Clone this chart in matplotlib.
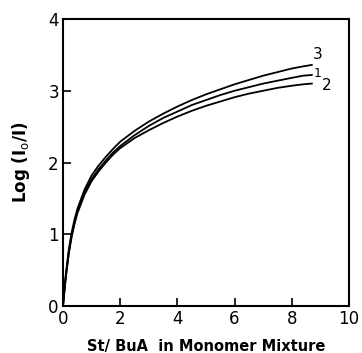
import matplotlib
matplotlib.use("Agg")
import matplotlib.pyplot as plt

x = [0, 0.05, 0.1, 0.2, 0.3, 0.4, 0.5, 0.75, 1.0, 1.25, 1.5, 1.75, 2.0, 2.5, 3.0, 3.5, 4.0, 4.5, 5.0, 5.5, 6.0, 6.5, 7.0, 7.5, 8.0, 8.4, 8.7]
curve3 = [0, 0.25, 0.45, 0.78, 1.02, 1.20, 1.35, 1.62, 1.82, 1.96, 2.08, 2.19, 2.29, 2.44, 2.57, 2.68, 2.78, 2.87, 2.95, 3.02, 3.09, 3.15, 3.21, 3.26, 3.31, 3.34, 3.36]
curve1 = [0, 0.22, 0.42, 0.74, 0.98, 1.16, 1.31, 1.58, 1.77, 1.91, 2.03, 2.14, 2.23, 2.38, 2.51, 2.62, 2.71, 2.80, 2.87, 2.94, 3.00, 3.05, 3.10, 3.14, 3.18, 3.21, 3.22]
curve2 = [0, 0.20, 0.40, 0.72, 0.96, 1.14, 1.29, 1.55, 1.74, 1.88, 2.00, 2.11, 2.20, 2.34, 2.45, 2.55, 2.64, 2.72, 2.79, 2.85, 2.91, 2.96, 3.00, 3.04, 3.07, 3.09, 3.10]
labels = ["3", "1", "2"]

fig = plt.figure(figsize=(3.62, 3.53), dpi=100)
ax = fig.add_axes([63/362, 1-306/353, (349-63)/362, (306-19)/353])

for y in (curve3, curve1, curve2):
    ax.plot(x, y, color="black", lw=1.3)

ax.text(8.75, 3.40, labels[0], fontsize=11, ha="left", va="bottom")
ax.text(8.75, 3.24, labels[1], fontsize=9, ha="left", va="center")
ax.text(9.05, 3.08, labels[2], fontsize=11, ha="left", va="center")

ax.set_xlim(0, 10)
ax.set_ylim(0, 4)
ax.set_xticks([0, 2, 4, 6, 8, 10])
ax.set_yticks([0, 1, 2, 3, 4])
ax.tick_params(direction="in", length=6, width=1.2, labelsize=12, pad=3, top=False, right=False)
for s in ax.spines.values():
    s.set_linewidth(1.5)
ax.set_xlabel("St/ BuA  in Monomer Mixture", fontsize=10.5, fontweight="bold", labelpad=8)
ax.set_ylabel("Log (I$_\\mathrm{o}$/I)", fontsize=12, fontweight="bold", labelpad=12)

fig.savefig("out.png", dpi=100)
